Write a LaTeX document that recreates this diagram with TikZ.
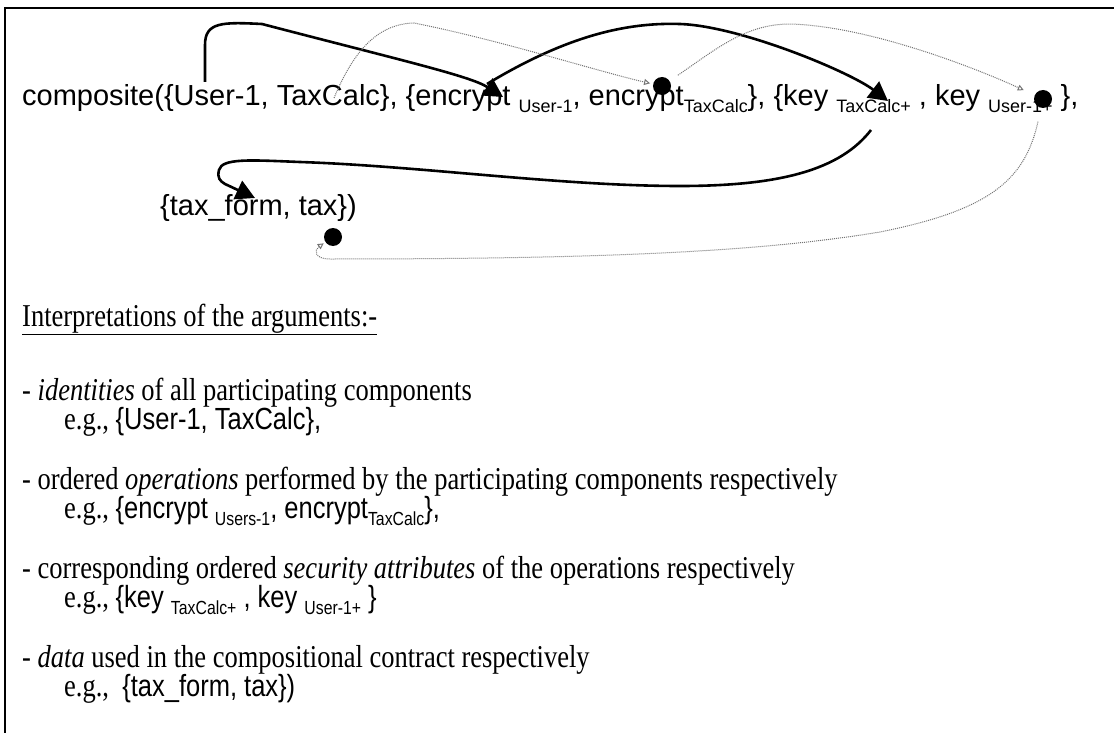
\documentclass[tikz,border=0pt]{standalone}
\usepackage{fontspec}
\setmainfont{Liberation Serif}
\newfontfamily\arial{Liberation Sans}
\usetikzlibrary{arrows.meta,positioning}
\newcommand{\sub}[1]{\raisebox{-0.24em}{\fontsize{0.62em}{0.7em}\selectfont #1}}
\newcommand{\stretched}[1]{\scalebox{1}[1.2]{#1}}
\newcommand{\egfont}{\arial\fontsize{25.5}{30}\selectfont}
\tikzset{
    %Define standard arrow tip
    >={Triangle[length=19pt,width=20pt]},
    %Define style for the text lines
    formula/.style={
           anchor=base west,
           inner sep=0pt,
           font=\arial\fontsize{29}{34}\selectfont},
    listline/.style={
           anchor=base west,
           inner sep=0pt,
           font=\fontsize{26.5}{30}\selectfont},
    blob/.style={
           circle,
           fill=black,
           inner sep=0pt,
           minimum size=18pt},
    % Define arrow style
    flow/.style={
           ->,
           line width=2.6pt},
    link/.style={
           -{Triangle[open,length=6pt,width=6pt]},
           densely dotted,
           draw=black!55,
           line width=1pt}
}
\begin{document}
\begin{tikzpicture}[x=1pt,y=-1pt]
\useasboundingbox (0,0) rectangle (1114,733);
\draw[line width=2pt] (5,733) -- (5,8) -- (1114,8);

 %formula
\node[formula] (comp) at (22,106) {composite(\{User-1, TaxCalc\}, \{encrypt \sub{User-1}, encrypt\sub{TaxCalc}\}, \{key \sub{TaxCalc+} , key \sub{User-1+} \},};
\node[formula] (data) at (160,215) {\{tax\_form, tax\})};

\node[blob] (dot1) at (662,86) {};
\node[blob] (dot2) at (1043,99) {};
\node[blob] (dot3) at (333,237) {};
\coordinate (userfoot) at (205,82);
\coordinate (enctip) at (503,97);
\coordinate (encfoot) at (487,84);
\coordinate (keytip) at (888,101);
\coordinate (keyfoot) at (871,130);
\coordinate (taxtip) at (255,198);
\coordinate (calcfoot) at (334,98);

 %solid arrows
\draw[flow] (userfoot) -- (205,45) .. controls (205,22) and (222,22) .. (262,24) .. controls (400,60) and (470,76) .. (enctip);
\draw[flow] (encfoot) .. controls (560,40) and (620,22) .. (680,24) .. controls (740,26) and (850,72) .. (keytip);
\draw[flow] (keyfoot) .. controls (840,170) and (780,186) .. (680,186) .. controls (560,186) and (420,166) .. (300,162) .. controls (250,160) and (222,158) .. (219,170) .. controls (217,178) and (220,181) .. (225,184) -- (taxtip);

 %dotted links
\draw[link, shorten >=3pt] (calcfoot) .. controls (352,55) and (375,24) .. (414,23) .. controls (500,40) and (600,72) .. (dot1);
\draw[link, shorten <=10pt, shorten >=12pt] (dot1) .. controls (715,50) and (745,24) .. (790,24) .. controls (870,26) and (980,70) .. (dot2);
\draw[link, shorten <=14pt, shorten >=2pt] (dot2) .. controls (1025,180) and (990,210) .. (880,232) .. controls (760,252) and (600,259) .. (330,259) .. controls (314,259) and (314,250) .. (dot3);

 %interpretations
\node[listline] (head) at (22,326) {\stretched{\underline{Interpretations of the arguments:-}}};
\node[listline] (ids) at (22,400) {\stretched{- \textit{identities} of all participating components}};
\node[listline] (idsx) at (64,429) {\stretched{e.g., {\egfont\{User-1, TaxCalc\},}}};
\node[listline] (ops) at (22,489) {\stretched{- ordered \textit{operations} performed by the participating components respectively}};
\node[listline] (opsx) at (64,518) {\stretched{e.g., {\egfont\{encrypt \sub{Users-1}, encrypt\sub{TaxCalc}\},}}};
\node[listline] (sec) at (22,578) {\stretched{- corresponding ordered \textit{security attributes} of the operations respectively}};
\node[listline] (secx) at (64,607) {\stretched{e.g., {\egfont\{key \sub{TaxCalc+} , key \sub{User-1+} \}}}};
\node[listline] (dat) at (22,667) {\stretched{- \textit{data} used in the compositional contract respectively}};
\node[listline] (datx) at (64,696) {\stretched{e.g.,~ {\egfont\{tax\_form, tax\})}}};
\end{tikzpicture}
\end{document}
